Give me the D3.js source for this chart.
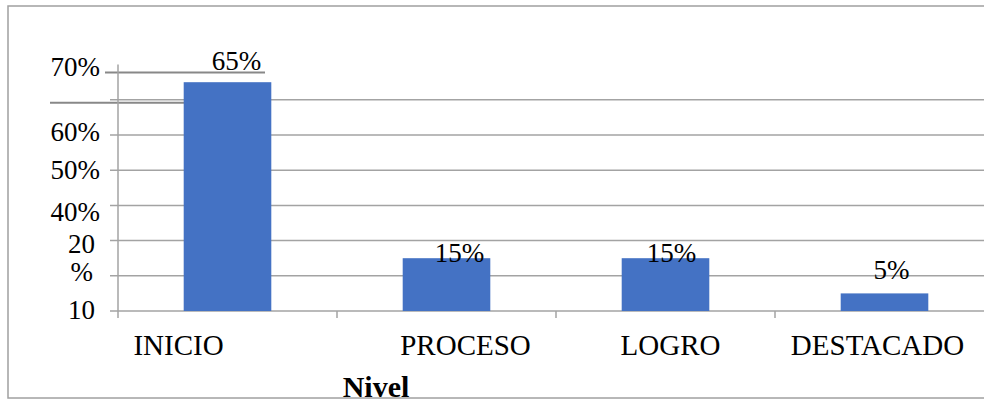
<!DOCTYPE html>
<html>
<head>
<meta charset="utf-8">
<script src="https://cdn.jsdelivr.net/npm/d3@7"></script>
<style>
  body { margin: 0; background: #fff; }
  svg { display: block; }
  text { font-family: "Liberation Serif", "Times New Roman", serif; fill: #000; }
</style>
</head>
<body>
<svg id="chart" width="984" height="400"></svg>
<script>
// chart data
var categories = ["INICIO", "PROCESO", "LOGRO", "DESTACADO"];
var values = [0.65, 0.15, 0.15, 0.05];
var valueLabels = ["65%", "15%", "15%", "5%"];
var gridValues = [0, 0.1, 0.2, 0.3, 0.4, 0.5, 0.6];
var yTickValues = [0.7, 0.5, 0.4, 0.3, 0.2, 0.1, 0];
var yTickLabels = ["70%", "60%", "50%", "40%", "20", "%", "10"];
var axisTitle = "Nivel";

// the source picture has its labels shifted around a bit
var yLabelNudge = [[0, 2], [0, -3], [0, 0], [0, 6], [-5, 3], [-7, -4], [-5, -1]];
var barLabelNudge = [[9, -12], [13, 4], [6, 4], [7, -14]];
var catLabelNudge = [-49, 19, 5, -7];

var svg = d3.select("#chart");
var gridColor = "#a3a3a3";

var x = d3.scaleBand().domain(categories).range([118, 994]);
var y = d3.scaleLinear().domain([0, 0.7]).range([311, 64.6]);

// frame
svg.append("rect")
    .attr("x", 8).attr("y", 6)
    .attr("width", 990).attr("height", 392)
    .attr("fill", "none")
    .attr("stroke", "#a0a0a0")
    .attr("stroke-width", 1.5);

// gridlines
svg.append("g").selectAll("line")
    .data(gridValues)
    .enter().append("line")
    .attr("x1", 110).attr("x2", 984)
    .attr("y1", function(d) { return y(d); })
    .attr("y2", function(d) { return y(d); })
    .attr("stroke", gridColor)
    .attr("stroke-width", 1.5);

// stray rules from the source picture
svg.append("line")
    .attr("x1", 105).attr("x2", 265)
    .attr("y1", y(0.7) + 8).attr("y2", y(0.7) + 8)
    .attr("stroke", "#888").attr("stroke-width", 2);
svg.append("line")
    .attr("x1", 50).attr("x2", 211)
    .attr("y1", y(0.6) + 3).attr("y2", y(0.6) + 3)
    .attr("stroke", "#888").attr("stroke-width", 2);

// vertical axis line
svg.append("line")
    .attr("x1", 118).attr("x2", 118)
    .attr("y1", y(0.7)).attr("y2", y(0) + 7)
    .attr("stroke", gridColor)
    .attr("stroke-width", 1.5);

// category ticks
svg.append("g").selectAll("line")
    .data(categories.slice(1))
    .enter().append("line")
    .attr("x1", function(d) { return x(d); })
    .attr("x2", function(d) { return x(d); })
    .attr("y1", y(0)).attr("y2", y(0) + 7)
    .attr("stroke", gridColor)
    .attr("stroke-width", 1.5);

// y axis labels
var yAxis = d3.axisLeft(y)
    .tickValues(yTickValues)
    .tickSize(0)
    .tickPadding(18)
    .tickFormat(function(d, i) { return yTickLabels[i]; });

var yg = svg.append("g")
    .attr("transform", "translate(118,0)")
    .call(yAxis);
yg.select(".domain").remove();
yg.selectAll("text")
    .attr("font-family", "Liberation Serif, Times New Roman, serif")
    .attr("font-size", 27)
    .attr("fill", "#000")
    .attr("transform", function(d, i) {
        return "translate(" + yLabelNudge[i][0] + "," + yLabelNudge[i][1] + ")";
    });

// bars
var bw = x.bandwidth() * 0.4;
svg.append("g").selectAll("rect")
    .data(values)
    .enter().append("rect")
    .attr("x", function(d, i) { return x(categories[i]) + (x.bandwidth() - bw) / 2; })
    .attr("y", function(d) { return y(d); })
    .attr("width", bw)
    .attr("height", function(d) { return y(0) - y(d); })
    .attr("fill", "#4472C4");

// value labels
svg.append("g").selectAll("text")
    .data(values)
    .enter().append("text")
    .attr("x", function(d, i) { return x(categories[i]) + x.bandwidth() / 2 + barLabelNudge[i][0]; })
    .attr("y", function(d, i) { return y(d) + barLabelNudge[i][1]; })
    .attr("text-anchor", "middle")
    .attr("font-size", 27)
    .text(function(d, i) { return valueLabels[i]; });

// category labels
svg.append("g").selectAll("text")
    .data(categories)
    .enter().append("text")
    .attr("x", function(d, i) { return x(d) + x.bandwidth() / 2 + catLabelNudge[i]; })
    .attr("y", 355)
    .attr("text-anchor", "middle")
    .attr("font-size", 29)
    .text(function(d) { return d; });

// axis title
svg.append("text")
    .attr("x", 376)
    .attr("y", 397)
    .attr("text-anchor", "middle")
    .attr("font-size", 30)
    .attr("font-weight", "bold")
    .text(axisTitle);
</script>
</body>
</html>
